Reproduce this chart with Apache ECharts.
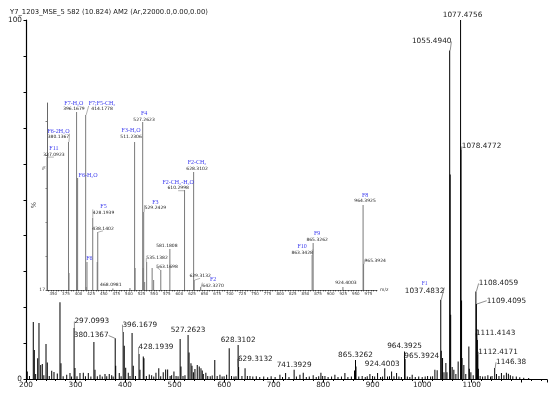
<!DOCTYPE html>
<html><head><meta charset="utf-8">
<script src="https://cdn.jsdelivr.net/npm/echarts@6/dist/echarts.min.js"></script>
<style>html,body{margin:0;padding:0;background:#fff}#c{width:550px;height:393px}</style>
</head><body><div id="c"></div>
<script>
// ---------------- DATA ----------------
const titleText = 'Y7_1203_MSE_5 582 (10.824) AM2 (Ar,22000.0,0.00,0.00)';
const mainTickLabels = [200, 300, 400, 500, 600, 700, 800, 900, 1000, 1100];
const mainYLabels = [0, 100];

const mainMz = [202.6,207,214.7,216.8,219.5,223.6,226.2,229.7,232.9,236,240.4,243.0,247,251.9,256.5,263.2,268.6,270.6,275,282.2,288.8,292,
297.0993,298.9,303,309,315.7,320,325.8,331,337.0923,339.3,344,349.4,354,359.5,363,368.1,373,376,380.1367,381.14,388.3,392,
396.1679,398.4,401.3,406.5,410,414.1778,416.6,421,428.1939,430.1,436.8,438.1402,443,448.9,453.7,458,462.4,468.0981,472,477.1,482,486,491,494,498.7,503,507,
511.2306,512.9,517,521,527.2623,529.2429,533.1,535.1382,538,541.1,545.8,549.8,553.3,555.9,558,563.1698,567,572,576,581.1808,586,591.6,596,600,605.1,
610.2998,615,620,624,628.3102,629.3132,636,642.327,647,652.2,658,665,672,680,688,695,703,712.7,718,724.2,731,741.3929,746,753.1,759.8,766,772,779.9,786,791,795.5,799,803.6,810,817,823.7,830,837,843.9,850,857,
863.3428,865.3262,866.33,872,878.8,885,889,894.4,899.8,904,909.9,916,920,924.4003,930,934,938.2,943,948.3,953,958,964.3925,965.3924,970,975,979.8,986,993,1000,1006,1010.9,1017,1021,1025.6,1030.2,
1037.4832,1038.49,1041.1,1044,1047.8,1050,1055.494,1056.5,1057.5,1060.5,1063.9,1068,1072.6,1077.4756,1078.4772,1079.48,1080.5,1084.1,1088,1094.2,1095.2,1098.3,1103,
1108.4059,1109.4095,1110.41,1111.4143,1112.4171,1113.42,1117,1122,1127,1132.6,1138,1141,1146.38,1150,1155,1160,1165,1170,1174,1178,1183,1190,1197,1205,1215];
const mainInt = [2.2,1.0,16.0,8.2,1.5,5.9,15.7,4.0,4.3,1.2,9.9,4.7,1.0,2.4,2.1,1.7,21.5,4.5,0.9,1.3,1.8,0.8,
14.3,3.2,0.9,1.8,1.9,0.9,1.8,0.8,10.4,2.7,0.9,1.3,0.8,1.5,0.9,1.5,1.2,0.8,11.5,3.8,1.8,0.9,
13.2,9.4,3.3,1.9,1.0,12.9,3.8,1.0,7.1,2.7,6.4,5.9,1.0,1.4,1.2,0.8,1.9,3.1,0.9,2.0,2.8,2.8,1.0,1.2,2.2,1.0,0.9,
11.3,3.6,1.0,1.2,12.4,7.5,4.5,3.8,2.0,2.9,4.0,3.6,3.1,2.5,1.5,1.9,1.0,0.9,1.1,5.4,1.0,1.3,0.8,0.9,1.3,
8.7,1.0,0.8,0.9,9.6,3.5,1.0,3.1,1.0,1.0,0.8,0.9,0.7,0.8,0.6,0.9,0.7,1.3,0.7,1.8,0.7,2.7,0.8,1.3,1.9,0.7,0.8,1.2,0.7,0.9,1.9,1.0,1.0,0.7,0.8,1.3,0.7,0.8,1.8,0.7,0.8,
2.5,5.4,3.6,0.8,1.0,0.7,0.9,1.5,1.0,0.8,1.8,0.7,0.8,3.1,0.8,0.9,2.2,0.9,1.8,0.8,0.7,7.8,5.7,0.8,0.7,1.3,0.7,0.8,0.7,0.8,1.0,0.8,0.9,2.7,2.6,
22.2,8,6.0,2.0,4.6,2,91.5,57,18,3.5,2.7,1.5,5.0,100,64,22,6,4.0,1.5,9.2,3,2.0,1.2,
24.5,21,14,11,6.8,3.0,1.0,0.8,0.9,1.2,0.8,1.0,3.2,1.5,1.0,1.8,1.2,1.9,1.6,1.2,0.9,0.8,0.6,0.5,0.4];

const mainLabelMz = ['297.0993','380.1367','396.1679','428.1939','527.2623','628.3102','629.3132','741.3929','865.3262',
'924.4003','964.3925','965.3924','1037.4832','1055.4940','1077.4756','1078.4772','1108.4059','1109.4095','1111.4143','1112.4171','1146.38'];
const mainLabelFrag = ['','','','','','','','','','','','','F1','','','','','','','',''];

const insetTickLabels = [350,375,400,425,450,475,500,525,550,575,600,625,650,675,700,725,750,775,800,825,850,875,900,925,950,975];
const insetYLabels = [17];
const insetMz = [337.0923,380.1367,381.14,396.1679,397.17,398.2,414.1778,415.18,416.8,428.1939,437.14,438.1402,468.0981,502,
511.2306,512.23,527.2623,528.26,529.2429,531.2,535.1382,546,549,563.1698,581.1808,610.2998,628.3102,629.3132,642.327,
863.3428,865.3262,924.4003,964.3925,965.3924];
const insetInt = [76.0,82.7,24.5,96.0,21.4,66.7,94.7,18.3,29.4,49.0,29.4,42.7,17.7,17.9,
82.7,26.8,91.6,26.8,51.6,20.5,29.4,26.8,21.4,25.9,35.2,61.4,69.4,21.4,18.3,
32.5,37.9,18.3,54.7,28.5];
const insetLabelPeak = [337.0923,380.1367,396.1679,398.2,414.1778,416.8,428.1939,438.1402,468.0981,511.2306,527.2623,529.2429,
535.1382,563.1698,581.1808,610.2998,628.3102,629.3132,642.327,863.3428,865.3262,924.4003,964.3925,965.3924];
const insetLabelText = ['337.0923','380.1367','396.1679','','414.1778','','428.1939','438.1402','468.0981','511.2306','527.2623','529.2429',
'535.1382','563.1698','581.1808','610.2998','628.3102','629.3132','642.3270','863.3428','865.3262','924.4003','964.3925','965.3924'];
const insetLabelFrag = ['F11','F6-2H\u2082O','F7-H\u2082O','F6-H\u2082O','F7;F5-CH\u2083','F6','F5','','','F3-H\u2082O','F4','F3',
'','','','F2-CH\u2083-H\u2082O','F2-CH\u2083','','F2','F10','F9','','F8',''];

// ---------------- LAYOUT (label offsets, px) ----------------
const mainShift = {
 '297.0993':[17.7,-0.6],'380.1367':[-24,3.4],'396.1679':[16.7,-1.3],'428.1939':[17,-0.7],
 '527.2623':[0,1],'628.3102':[0,1],'629.3132':[16.7,-2],'741.3929':[0,1],'865.3262':[0,1],
 '924.4003':[-2.5,1.7],'964.3925':[0,1],'965.3924':[16.7,3.4],'1037.4832':[-16.2,-2.5],
 '1055.4940':[-18,-3],'1077.4756':[2,1],'1078.4772':[20.5,3],'1108.4059':[22.5,-2],
 '1109.4095':[30,2.7],'1111.4143':[18.3,-0.7],'1112.4171':[20.2,2.7],'1146.38':[16.4,0.3]
};
const insetShift = [[7,1.3],[-10,-1.3],[-2.7,1],[10.5,1.3],[16.4,-2],[2.4,1],[10.8,-1.5],[5.3,0],[-2,0],[-3.5,-1.5],[1.4,1.5],[11.7,0],
 [10.4,0],[6.3,0.8],[-3,0.5],[-6.4,2],[3.4,0.5],[6,-0.5],[12.4,2.5],[-10,1.2],[4,0.4],[3,0],[2,0],[11.6,0]];

const SANS = 'DejaVu Sans';
const SERIF = 'Liberation Serif';
const BLUE = '#3b3bef';

// ---------------- BUILD ----------------
const mainShiftByIdx = {};
const mainData = mainMz.map((mz, i) => {
  const item = { value: [mz, mainInt[i]] };
  const k = mainLabelMz.findIndex(s => parseFloat(s) === mz);
  if (k >= 0) {
    const key = mainLabelMz[k];
    const frag = mainLabelFrag[k];
    const sh = mainShift[key] || [0, 0];
    item.label = { show: true, formatter: frag ? '{f|' + frag + '}\n{m|' + key + '}' : '{m|' + key + '}' };
    item.labelLine = { show: Math.abs(sh[0]) > 3 };
    mainShiftByIdx[i] = sh;
  }
  return item;
});

const insetShiftByIdx = {};
const insetData = insetMz.map((mz, i) => {
  const item = { value: [mz, insetInt[i]] };
  const k = insetLabelPeak.indexOf(mz);
  if (k >= 0) {
    const frag = insetLabelFrag[k], num = insetLabelText[k];
    const parts = [];
    if (frag) parts.push('{f|' + frag + '}');
    if (num) parts.push('{m|' + num + '}');
    const sh = insetShift[k];
    item.label = { show: true, formatter: parts.join('\n') };
    item.labelLine = { show: !!num && Math.abs(sh[0]) >= 5 };
    insetShiftByIdx[i] = sh;
  }
  return item;
});

const insetTicks = [];
for (let v = 340; v <= 990; v += 5) insetTicks.push(v);

const plain = v => String(v);

const chart = echarts.init(document.getElementById('c'));
chart.setOption({
  animation: false,
  backgroundColor: '#fff',
  title: { text: titleText, left: 5, top: 4, textStyle: { fontSize: 6.8, fontFamily: SANS, fontWeight: 'normal', color: '#222' } },
  grid: [
    { left: 26, right: 3, top: 20, bottom: 13.5, outerBoundsMode: 'none', containLabel: false },
    { left: 47, width: 330, top: 103, height: 187, outerBoundsMode: 'none', containLabel: false }
  ],
  xAxis: [
    { type: 'value', gridIndex: 0, min: 200, max: 1252, interval: 100,
      axisLine: { lineStyle: { color: '#000', width: 1 } },
      axisTick: { length: 3, lineStyle: { color: '#000' } },
      minorTick: { show: true, splitNumber: 5, length: 1.5, lineStyle: { color: '#000' } },
      splitLine: { show: false },
      axisLabel: { margin: 2, fontSize: 7.3, fontFamily: SANS, color: '#222', customValues: mainTickLabels, formatter: plain } },
    { type: 'value', gridIndex: 1, min: 337.5, max: 992,
      name: 'm/z', nameLocation: 'end', nameGap: 3, nameTextStyle: { fontSize: 4.5, fontFamily: SANS, color: '#333', verticalAlign: 'middle' },
      axisLine: { lineStyle: { color: '#000', width: 0.6 } },
      axisTick: { length: 1.5, customValues: insetTicks, lineStyle: { color: '#000', width: 0.5 } },
      splitLine: { show: false },
      axisLabel: { margin: 2, fontSize: 4, fontFamily: SANS, color: '#333', customValues: insetTickLabels, formatter: plain } }
  ],
  yAxis: [
    { type: 'value', gridIndex: 0, min: 0, max: 100, interval: 10,
      axisLine: { show: true, lineStyle: { color: '#000', width: 1.2 } },
      axisTick: { show: true, length: 2.5, lineStyle: { color: '#000' } },
      splitLine: { show: false },
      axisLabel: { margin: 4, fontSize: 7.3, fontFamily: SANS, color: '#222', customValues: mainYLabels, formatter: plain } },
    { type: 'value', gridIndex: 1, min: 17, max: 100,
      axisLine: { show: true, lineStyle: { color: '#000', width: 0.6 } },
      axisTick: { show: true, length: 1.5, customValues: [17, 32, 47, 62, 77, 92], lineStyle: { color: '#000', width: 0.5 } },
      splitLine: { show: false },
      axisLabel: { margin: 2, fontSize: 4.5, fontFamily: SANS, color: '#333', customValues: insetYLabels, formatter: plain } }
  ],
  graphic: [
    { type: 'text', x: 33, y: 205, rotation: -Math.PI / 2, style: { text: '%', fontSize: 6.5, fontFamily: SANS, fill: '#333', align: 'center', verticalAlign: 'middle' } },
    { type: 'text', x: 43, y: 168, rotation: -Math.PI / 2, style: { text: '%', fontSize: 4.5, fontFamily: SANS, fill: '#333', align: 'center', verticalAlign: 'middle' } }
  ],
  series: [
    { type: 'bar', xAxisIndex: 0, yAxisIndex: 0, data: mainData, barWidth: 1,
      itemStyle: { color: '#000' }, emphasis: { disabled: true },
      label: { show: false, position: 'top', distance: 2,
        rich: { m: { fontSize: 7.3, fontFamily: SANS, color: '#222', lineHeight: 8 },
                f: { fontSize: 5.5, fontFamily: SERIF, color: BLUE, lineHeight: 8 } } },
      labelLine: { show: false, length2: 0, lineStyle: { color: '#444', width: 0.6 } },
      labelLayout: p => { const s = mainShiftByIdx[p.dataIndex]; return s ? { dx: s[0], dy: s[1] } : {}; } },
    { type: 'bar', xAxisIndex: 1, yAxisIndex: 1, data: insetData, barWidth: 0.8,
      itemStyle: { color: '#7a7a7a' }, emphasis: { disabled: true },
      label: { show: false, position: 'top', distance: 1,
        rich: { m: { fontSize: 4.5, fontFamily: SANS, color: '#222', lineHeight: 5.5 },
                f: { fontSize: 6, fontFamily: SERIF, color: BLUE, lineHeight: 6.5 } } },
      labelLine: { show: false, length2: 0, lineStyle: { color: '#666', width: 0.5 } },
      labelLayout: p => { const s = insetShiftByIdx[p.dataIndex]; return s ? { dx: s[0], dy: s[1] } : {}; } }
  ]
});
</script></body></html>
